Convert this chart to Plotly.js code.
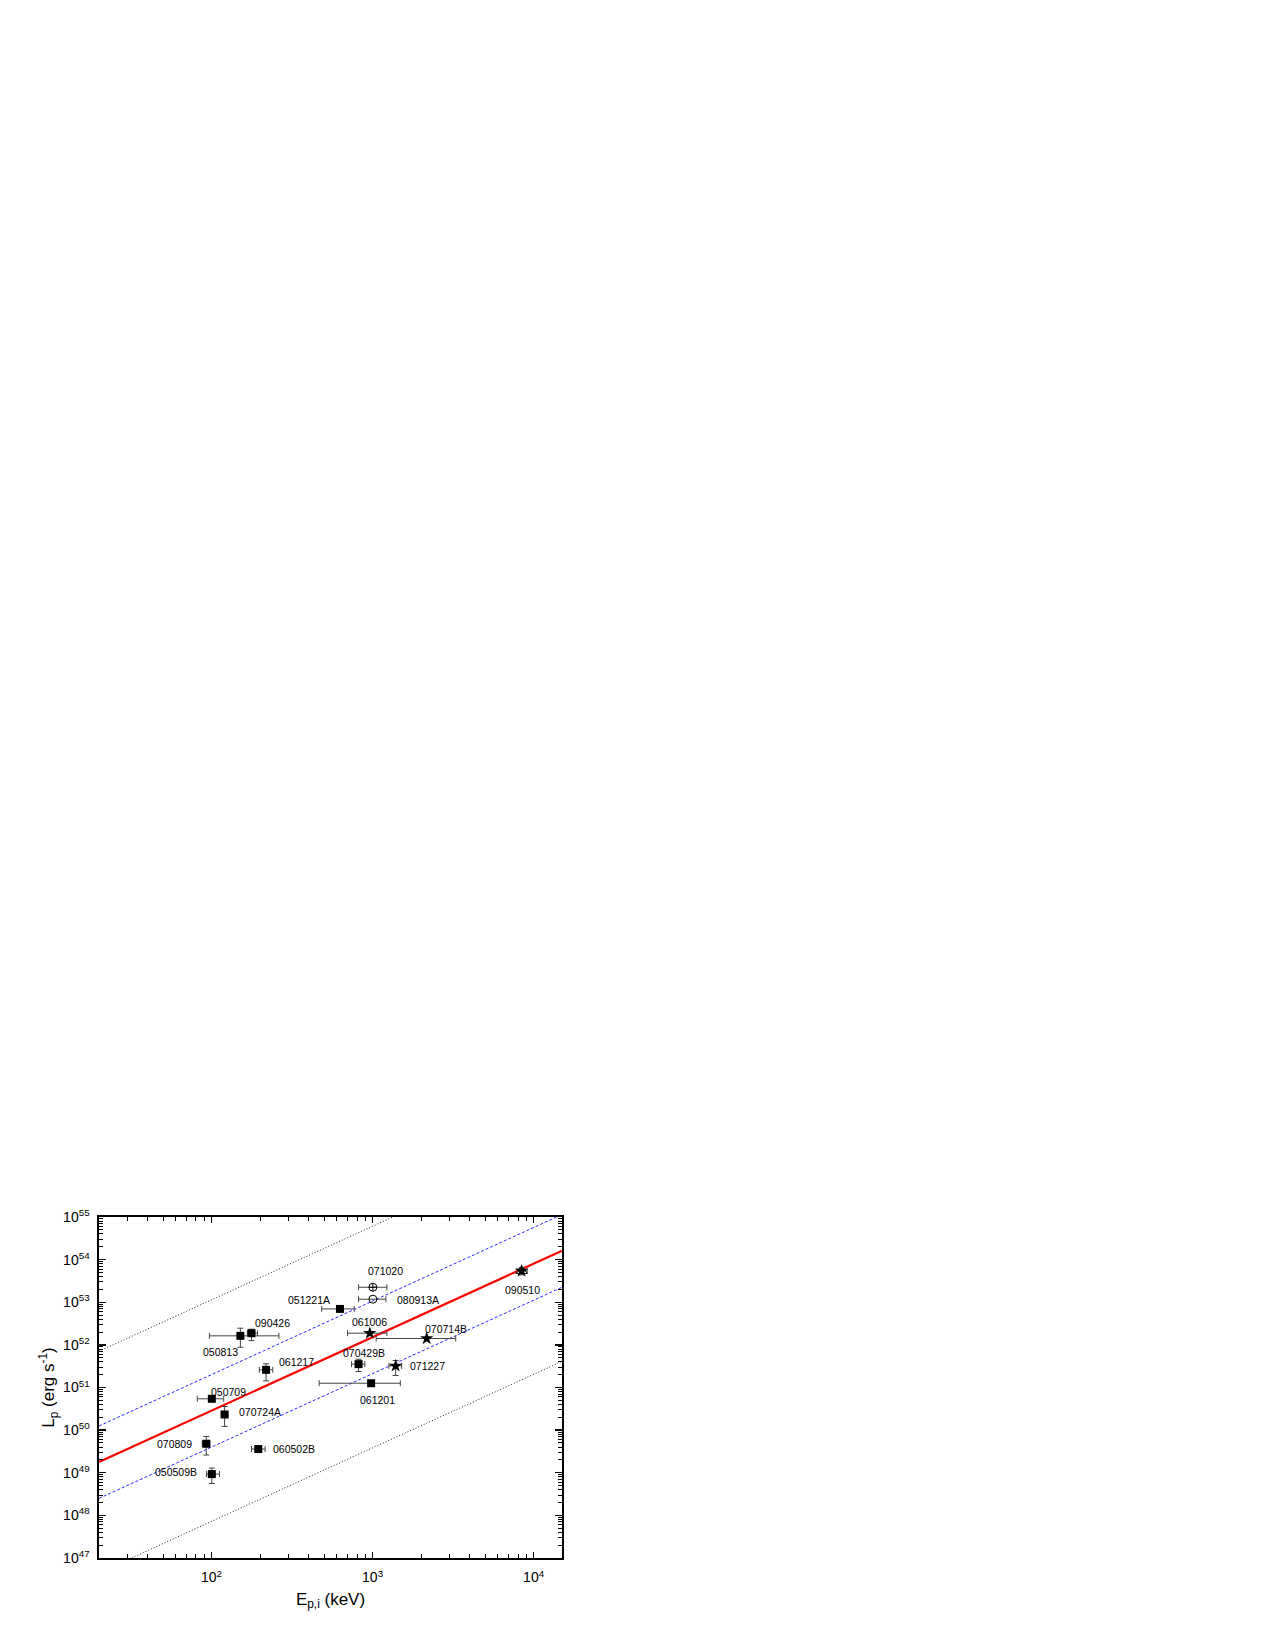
<!DOCTYPE html>
<html>
<head>
<meta charset="utf-8">
<script src="https://cdn.plot.ly/plotly-3.0.1.min.js"></script>
<style>html,body{margin:0;padding:0;background:#fff;}</style>
</head>
<body>
<div id="chart" style="width:1275px;height:1650px;"></div>
<script>
// ---- data ----
// filled squares
const sqNames = ['050813','090426','061217','051221A','070429B','061201','050709','070724A','070809','060502B','050509B'];
const sqEp    = [151, 177, 218, 627, 818, 979, 100.4, 120.5, 92.7, 195, 100.4];
const sqEpLo  = [97, 167, 198, 483, 740, 466, 81.5, 115, 87.5, 177, 93];
const sqEpHi  = [262, 193, 240, 769, 895, 1486, 119, 126, 97.6, 215, 112];
const sqL     = [1.63e52, 1.88e52, 2.6e51, 6.98e52, 3.53e51, 1.26e51, 5.43e50, 2.33e50, 4.79e49, 3.6e49, 9.3e48];
const sqLLo   = [8.8e51, 1.26e52, 1.43e51, 6.98e52, 2.37e51, 1.26e51, 5.43e50, 1.22e50, 2.6e49, 3.6e49, 5.6e48];
const sqLHi   = [2.46e52, 2.33e52, 3.6e51, 6.98e52, 4.6e51, 1.26e51, 5.43e50, 3.58e50, 7.1e49, 3.6e49, 1.29e49];
// stars
const stNames = ['061006','070714B','071227','090510'];
const stEp    = [961, 2167, 1390, 8415];
const stEpLo  = [699, 1052, 1262, 7907];
const stEpHi  = [1227, 3282, 1514, 9120];
const stL     = [1.88e52, 1.41e52, 3.22e51, 5.42e53];
const stLLo   = [1.88e52, 1.41e52, 1.91e51, 4.37e53];
const stLHi   = [1.88e52, 1.41e52, 4.3e51, 6.46e53];
// open triangle (090510)
const trEp = [8415];
const trL  = [5.42e53];
// circle with cross (071020)
const ccNames = ['071020'];
const ccEp = [1004], ccEpLo = [818], ccEpHi = [1227], ccL = [2.25e53];
// open circle (080913A)
const coNames = ['080913A'];
const coEp = [1004], coEpLo = [818], coEpHi = [1210], coL = [1.18e53];

// lines (end points read at Ep = 20 and Ep = 15000)
const lineEp  = [20, 15000];
const fitL    = [1.78e49, 1.62e54];
const sig1UpL = [1.25e50, 1.14e55];
const sig1LoL = [2.5e48, 2.25e53];
const sig3UpL = [7.1e51, 6.5e56];
const sig3LoL = [4.5e46, 4.1e51];

// axis ticks
const xMajor = [100, 1000, 10000];
const xMajorText = ['10<sup>2</sup>', '10<sup>3</sup>', '10<sup>4</sup>'];
const yMajor = [1e47,1e48,1e49,1e50,1e51,1e52,1e53,1e54,1e55];
const yMajorText = ['10<sup>47</sup>','10<sup>48</sup>','10<sup>49</sup>','10<sup>50</sup>','10<sup>51</sup>','10<sup>52</sup>','10<sup>53</sup>','10<sup>54</sup>','10<sup>55</sup>'];
const xMinor = [30,40,50,60,70,80,90,200,300,400,500,600,700,800,900,2000,3000,4000,5000,6000,7000,8000,9000];
const yMinorMult = [2,3,4,5,6,7,8,9];

// label offsets in pixels (position, not data)
const labelShift = {
  '050813':[-20,-16], '090426':[21,10], '061217':[30,8], '051221A':[-31,9],
  '070429B':[5,11], '061201':[6,-17], '050709':[17,7], '070724A':[35,2],
  '070809':[-32,0], '060502B':[36,0], '050509B':[-36,2],
  '061006':[0,11], '070714B':[19,10], '071227':[32,0], '090510':[1,-19],
  '071020':[13,16], '080913A':[45,-1]
};

// ---- build ----
const sub = (a, b) => a.map((v, i) => v - b[i]);
const errCol = '#444444';
function errX(ep, lo, hi) {
  return {type:'data', symmetric:false, array: sub(hi, ep), arrayminus: sub(ep, lo),
          color: errCol, thickness: 1, width: 3};
}
function errY(L, lo, hi) {
  return {type:'data', symmetric:false, array: sub(hi, L), arrayminus: sub(L, lo),
          color: errCol, thickness: 1, width: 3};
}

const traces = [];
function line(y, color, width, dash) {
  traces.push({x: lineEp, y: y, mode:'lines', line:{color, width, dash}, hoverinfo:'skip', showlegend:false});
}
line(sig3UpL, '#222222', 1, '1px,2px');
line(sig3LoL, '#222222', 1, '1px,2px');
line(sig1UpL, '#2a2aff', 1, '3px,2px');
line(sig1LoL, '#2a2aff', 1, '3px,2px');
line(fitL, '#ff0000', 2.2, 'solid');

traces.push({x: sqEp, y: sqL, mode:'markers', text: sqNames,
  marker:{symbol:'square', size:8, color:'#000'},
  error_x: errX(sqEp, sqEpLo, sqEpHi), error_y: errY(sqL, sqLLo, sqLHi), showlegend:false});
traces.push({x: trEp, y: trL, mode:'markers',
  marker:{symbol:'triangle-up-open', size:10, color:'#000', line:{width:1}}, showlegend:false});
traces.push({x: stEp, y: stL, mode:'markers', text: stNames,
  marker:{symbol:'star', size:10, color:'#000'},
  error_x: errX(stEp, stEpLo, stEpHi), error_y: errY(stL, stLLo, stLHi), showlegend:false});
traces.push({x: ccEp, y: ccL, mode:'markers', text: ccNames,
  marker:{symbol:'circle-cross-open', size:8, color:'#000', line:{width:1}},
  error_x: errX(ccEp, ccEpLo, ccEpHi), showlegend:false});
traces.push({x: coEp, y: coL, mode:'markers', text: coNames,
  marker:{symbol:'circle-open', size:8, color:'#000', line:{width:1}},
  error_x: errX(coEp, coEpLo, coEpHi), showlegend:false});

// labels
const annotations = [];
function addLabels(names, ep, L) {
  names.forEach((n, i) => {
    const s = labelShift[n] || [0, 0];
    annotations.push({x: Math.log10(ep[i]), y: Math.log10(L[i]), xref:'x', yref:'y',
      text: n, showarrow:false, xshift: s[0], yshift: s[1],
      font:{family:'Liberation Sans, Arial, sans-serif', size:10.5, color:'#000'}});
  });
}
addLabels(sqNames, sqEp, sqL);
addLabels(stNames, stEp, stL);
addLabels(ccNames, ccEp, ccL);
addLabels(coNames, coEp, coL);

const yMinor = [];
yMajor.slice(0, -1).forEach(d => yMinorMult.forEach(m => yMinor.push(d * m)));

const xRange = [Math.log10(20), Math.log10(15000)];
const yRange = [47, 55];
const font = {family:'Liberation Sans, Arial, sans-serif', color:'#000'};

const layout = {
  width: 1275, height: 1650,
  margin: {l: 99, r: 713, t: 1217, b: 92, pad: 0},
  paper_bgcolor: '#fff', plot_bgcolor: '#fff',
  showlegend: false,
  font: font,
  xaxis: {
    type:'log', range: xRange, tickmode:'array', tickvals: xMajor, ticktext: xMajorText,
    ticks:'inside', ticklen:6, tickwidth:1.3, tickcolor:'#000',
    showline:true, linecolor:'#000', linewidth:1.6, mirror:'allticks',
    showgrid:false, zeroline:false,
    tickfont:{family:font.family, size:14, color:'#000'},
    ticklabelstandoff: 6,
    minor:{tickmode:'array', tickvals:xMinor, ticks:'inside', ticklen:4, tickwidth:1, tickcolor:'#000', showgrid:false},
    title:{text:'E<sub>p,i</sub> (keV)', font:{family:font.family, size:17, color:'#000'}, standoff: 8}
  },
  yaxis: {
    type:'log', range: yRange, tickmode:'array', tickvals: yMajor, ticktext: yMajorText,
    ticks:'inside', ticklen:7, tickwidth:1.3, tickcolor:'#000',
    showline:true, linecolor:'#000', linewidth:1.6, mirror:'allticks',
    showgrid:false, zeroline:false,
    tickfont:{family:font.family, size:14, color:'#000'},
    ticklabelstandoff: 5,
    minor:{tickmode:'array', tickvals:yMinor, ticks:'inside', ticklen:4, tickwidth:1, tickcolor:'#000', showgrid:false},
    title:{text:'L<sub>p</sub> (erg s<sup>-1</sup>)', font:{family:font.family, size:17, color:'#000'}, standoff: 4}
  },
  annotations: annotations
};

Plotly.newPlot('chart', traces, layout, {displayModeBar:false, staticPlot:true});
</script>
</body>
</html>
